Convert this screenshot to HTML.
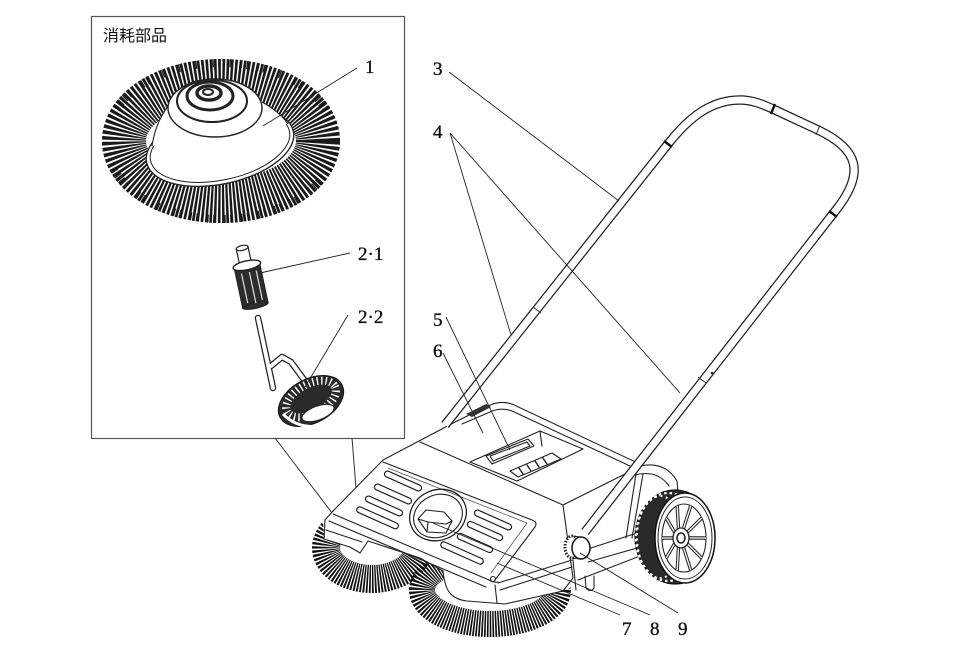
<!DOCTYPE html>
<html><head><meta charset="utf-8"><style>
html,body{margin:0;padding:0;background:#fff;}
svg{display:block;}
text{font-family:"Liberation Serif",serif;font-size:19px;fill:#111;stroke:#111;stroke-width:0.35;}
</style></head><body>
<svg width="960" height="648" viewBox="0 0 960 648" xmlns="http://www.w3.org/2000/svg">
<rect width="960" height="648" fill="#fff"/>

<!-- consumables box -->
<rect x="91.5" y="16.5" width="313" height="422" fill="none" stroke="#555" stroke-width="1.2"/>
<text x="103" y="41" style="font-family:'Liberation Sans','Noto Sans CJK JP',sans-serif;font-size:16px;stroke:none">消耗部品</text>

<!-- brush 1 -->
<ellipse cx="221" cy="141" rx="97" ry="60" fill="none" stroke="#1a1a1a" stroke-width="44" stroke-dasharray="2.4 1.4"/>
<ellipse cx="221" cy="141" rx="115" ry="78" fill="none" stroke="#1a1a1a" stroke-width="8" stroke-dasharray="1.2 4.5"/>
<ellipse cx="220" cy="147" rx="75" ry="37" transform="rotate(-12 220 147)" fill="#fff" stroke="#222" stroke-width="1.3"/>
<ellipse cx="220" cy="146" rx="71" ry="34" transform="rotate(-12 220 146)" fill="none" stroke="#222" stroke-width="1"/>
<path d="M152,146 Q156,118 170,104 L262,102 Q280,112 288,124 Z" fill="#fff"/>
<path d="M152,146 Q156,120 170,104 M262,102 Q280,112 288,124" fill="none" stroke="#222" stroke-width="1.1"/>
<ellipse cx="215" cy="108" rx="47" ry="29" fill="#fff" stroke="#222" stroke-width="1.4"/>
<ellipse cx="212" cy="101" rx="35" ry="21" fill="none" stroke="#222" stroke-width="2"/>
<ellipse cx="210" cy="96" rx="23" ry="14" fill="none" stroke="#222" stroke-width="3"/>
<ellipse cx="209" cy="93" rx="12" ry="7" fill="none" stroke="#222" stroke-width="3.5"/>
<ellipse cx="208" cy="92" rx="5" ry="3" fill="none" stroke="#222" stroke-width="2"/>

<!-- part 2-1 -->
<g transform="rotate(-12 250 280)">
  <rect x="243" y="247" width="12" height="16" fill="#fff" stroke="#222" stroke-width="1.2"/>
  <ellipse cx="249" cy="247" rx="6" ry="2.5" fill="#fff" stroke="#222" stroke-width="1.2"/>
  <rect x="237" y="266" width="26" height="40" fill="#2c2c2c" stroke="#222"/>
  <ellipse cx="250" cy="306" rx="13" ry="3" fill="#2c2c2c" stroke="#222"/>
  <ellipse cx="250" cy="265" rx="14" ry="4.5" fill="#fff" stroke="#222" stroke-width="1.4"/>
  <path d="M243,272 L243,302 M251,272 L251,304 M258,272 L258,302" stroke="#ddd" stroke-width="1.2"/>
</g>
<!-- rod -->
<path d="M258,318 L273,388 M271,366 L282,357 L291,362 L305,381" fill="none" stroke="#222" stroke-width="6.5" stroke-linecap="round" stroke-linejoin="round"/>
<path d="M258,318 L273,388 M271,366 L282,357 L291,362 L305,381" fill="none" stroke="#fff" stroke-width="4" stroke-linecap="round" stroke-linejoin="round"/>

<!-- part 2-2 -->
<ellipse cx="311" cy="401" rx="35" ry="22" transform="rotate(-28 311 401)" fill="#2a2a2a" stroke="#111"/>
<ellipse cx="311" cy="399" rx="27" ry="15" transform="rotate(-28 311 399)" fill="none" stroke="#fff" stroke-width="8" stroke-dasharray="1.4 3"/>
<path d="M283,414 Q300,432 330,424 Q344,418 344,404" fill="none" stroke="#fff" stroke-width="3"/>
<ellipse cx="318" cy="413" rx="17" ry="7" transform="rotate(-20 318 413)" fill="#fff" stroke="#222" stroke-width="1.3"/>

<!-- box to brush leaders -->
<path d="M275,438 L361,551 M352,438 L361,551" stroke="#333" stroke-width="1" fill="none"/>

<!-- lower brushes -->
<ellipse cx="372" cy="548" rx="46" ry="31" fill="none" stroke="#111" stroke-width="28" stroke-dasharray="1.6 1.1"/>
<ellipse cx="490" cy="590" rx="68" ry="34" fill="none" stroke="#111" stroke-width="26" stroke-dasharray="1.6 1.1"/>

<!-- body silhouette -->
<path d="M323,520 L324,539 L350,547 L360,553 L368,541 L420,558 L443,571 C445,590 450,599 467,601 L505,604 L565,590 L578,584 L640,560 L640,466 L512,404 Q500,400 488,406 L457,421 L383,460 L333,511 Z" fill="#fff"/>

<g fill="none" stroke="#222" stroke-width="1.1" stroke-linejoin="round" stroke-linecap="round">
  <path d="M333,511 L383,460 L457,421 L488,406 Q500,400 512,404 L642,465"/>
  <path d="M462,424 L490,412 Q501,407 512,411 L630,466"/>
  <path d="M420,442 L563,505"/>
  <path d="M383,462 L532,520 Q538,522 535,527 L495,580"/>
  <path d="M388,468 L527,523 L491,573" stroke="#555" stroke-width="0.8"/>
  <path d="M333,514 L489,580 Q494,583 498,582"/>
  <path d="M329,521 L486,587"/>
  <path d="M333,511 L325,520 L324,539"/>
  <path d="M324,539 L350,547 L360,553 L368,541 L420,558 L443,571"/>
  <path d="M326,530 L362,542"/>
  <path d="M443,571 C445,590 450,599 467,601 L505,604 L563,591"/>
  <path d="M495,585 L497,603"/>
  <path d="M563,505 L573,578 L563,591"/>
  <path d="M563,505 L633,470"/>
  <path d="M498,583 L572,560 M500,590 L572,567"/>
  <path d="M588,549 L637,533 M588,562 L637,548 M578,580 L640,556"/>
  <path d="M573,560 L576,590"/>
  <path d="M585,576 L586,588 Q590,593 594,588 L594,576"/>
  <circle cx="493" cy="579" r="2.5"/>
  <!-- recess + grips -->
  <path d="M470,462 L540,431 L583,449 L517,481 Z"/>
  <path d="M540,431 L542,446"/>
  <path d="M486,456 L528,439 L534,446 L492,464 Z"/>
  <path d="M490,456 L527,442 L530,446 L493,461 Z"/>
  <path d="M510,471 L552,453 L561,459 L518,477 Z"/>
  <path d="M519,468 L523,474 M527,465 L531,471 M535,461 L539,467 M543,458 L547,464" stroke-width="1.4"/>
  <!-- fender & strut -->
  <path d="M628,470 Q662,456 677,481 L678,492"/>
  <path d="M626,478 Q655,466 669,486"/>
  <path d="M636,474 L626,538 M643,474 L632,538"/>
  <!-- round recess -->
  <ellipse cx="438" cy="515" rx="29" ry="25" transform="rotate(-25 438 515)" stroke-width="1.3"/>
  <ellipse cx="438" cy="516" rx="25" ry="21" transform="rotate(-25 438 516)"/>
  <path d="M418,519 L426,510 L444,512 L452,521 L446,533 L427,532 Z" fill="#fff"/>
  <path d="M418,519 L428,522 L446,524 L452,521 M428,522 L427,532"/>
  <!-- slots -->
  <g stroke-width="1.2">
    <rect x="383" y="478" width="40" height="6" rx="3" transform="rotate(24 403 481)"/>
    <rect x="373" y="491" width="40" height="6" rx="3" transform="rotate(24 393 494)"/>
    <rect x="364" y="503" width="40" height="6" rx="3" transform="rotate(24 384 506)"/>
    <rect x="355" y="515" width="45" height="6" rx="3" transform="rotate(24 378 518)"/>
    <rect x="473" y="517" width="40" height="6" rx="3" transform="rotate(24 493 520)"/>
    <rect x="466" y="528" width="38" height="6" rx="3" transform="rotate(24 485 531)"/>
    <rect x="456" y="540" width="38" height="6" rx="3" transform="rotate(24 475 543)"/>
    <rect x="439" y="550" width="46" height="6" rx="3" transform="rotate(24 462 553)"/>
  </g>
</g>

<!-- wheel -->
<ellipse cx="675" cy="537" rx="40" ry="47" fill="#2a2a2a" stroke="#111" stroke-width="1.2"/>
<ellipse cx="668" cy="537" rx="32" ry="44" fill="none" stroke="#fff" stroke-width="2.2" stroke-dasharray="2.5 3"/>
<ellipse cx="660" cy="537" rx="23" ry="41" fill="none" stroke="#fff" stroke-width="2" stroke-dasharray="2 3.5"/>
<ellipse cx="685" cy="538" rx="30" ry="45" fill="#fff" stroke="#111" stroke-width="1.5"/>
<ellipse cx="685" cy="538" rx="27" ry="41" fill="none" stroke="#222" stroke-width="1"/>
<ellipse cx="684" cy="538" rx="22" ry="34" fill="none" stroke="#222" stroke-width="1.1"/>
<g fill="none">
<path d="M689,538 L706,538 M687.5,543.9 L701.8,558 M683.5,547.5 L690.8,570.3 M678.5,547.5 L677.2,570.3 M674.5,543.9 L666.2,558 M673,538 L662,538 M674.5,532.1 L666.2,518 M678.5,528.5 L677.2,505.7 M683.5,528.5 L690.8,505.7 M687.5,532.1 L701.8,518" stroke="#222" stroke-width="3.4"/>
<path d="M689,538 L706,538 M687.5,543.9 L701.8,558 M683.5,547.5 L690.8,570.3 M678.5,547.5 L677.2,570.3 M674.5,543.9 L666.2,558 M673,538 L662,538 M674.5,532.1 L666.2,518 M678.5,528.5 L677.2,505.7 M683.5,528.5 L690.8,505.7 M687.5,532.1 L701.8,518" stroke="#fff" stroke-width="1.3"/>
</g>
<ellipse cx="681" cy="538" rx="8" ry="10" fill="#fff" stroke="#222" stroke-width="1.3"/>
<ellipse cx="681" cy="538" rx="4" ry="5" fill="none" stroke="#222" stroke-width="1.6"/>

<!-- handle -->
<path d="M445,425 L668,144 C690,116 712,100 740,100 C752,100 762,104 773,109 L818,130 C858,149 866,172 836,210 L585,532" fill="none" stroke="#222" stroke-width="9.5" stroke-linejoin="round"/>
<path d="M445,425 L668,144 C690,116 712,100 740,100 C752,100 762,104 773,109 L818,130 C858,149 866,172 836,210 L585,532" fill="none" stroke="#fff" stroke-width="7" stroke-linejoin="round"/>
<path d="M664,141 L672,147 M775,104 L771,114 M829,211 L837,217" stroke="#111" stroke-width="2.4"/>
<path d="M820,125 L816,135 M533,307 L541,313 M698,377 L706,383" stroke="#333" stroke-width="1"/>
<circle cx="712" cy="373" r="1.3" fill="#222"/>
<path d="M466,414 L486,404 L491,407 L472,417 Z" fill="#333"/>

<!-- knob -->
<ellipse cx="572" cy="547" rx="7" ry="11" fill="#fff" stroke="#222" stroke-width="3" stroke-dasharray="1.5 1.5"/>
<path d="M572,536 L581,537 M572,558 L581,559" stroke="#222"/>
<ellipse cx="581" cy="548" rx="9" ry="11" fill="#fff" stroke="#111" stroke-width="1.5"/>

<!-- leaders -->
<g stroke="#222" stroke-width="0.9" fill="none">
  <path d="M357,68 L263,126"/>
  <path d="M350,253 L260,273"/>
  <path d="M348,315 L305,387"/>
  <path d="M449,72 L619,201"/>
  <path d="M450,133 L511,335 M450,133 L680,393"/>
  <path d="M446,317 L510,450"/>
  <path d="M443,353 L483,433"/>
  <path d="M620,615 L497,563"/>
  <path d="M650,615 L433,523"/>
  <path d="M678,613 L580,553"/>
</g>

<!-- labels -->
<text x="365" y="73">1</text>
<text x="358" y="260">2·1</text>
<text x="358" y="323">2·2</text>
<text x="433" y="75">3</text>
<text x="433" y="138">4</text>
<text x="433" y="326">5</text>
<text x="433" y="357">6</text>
<text x="622" y="635">7</text>
<text x="650" y="635">8</text>
<text x="678" y="635">9</text>
</svg>
</body></html>
